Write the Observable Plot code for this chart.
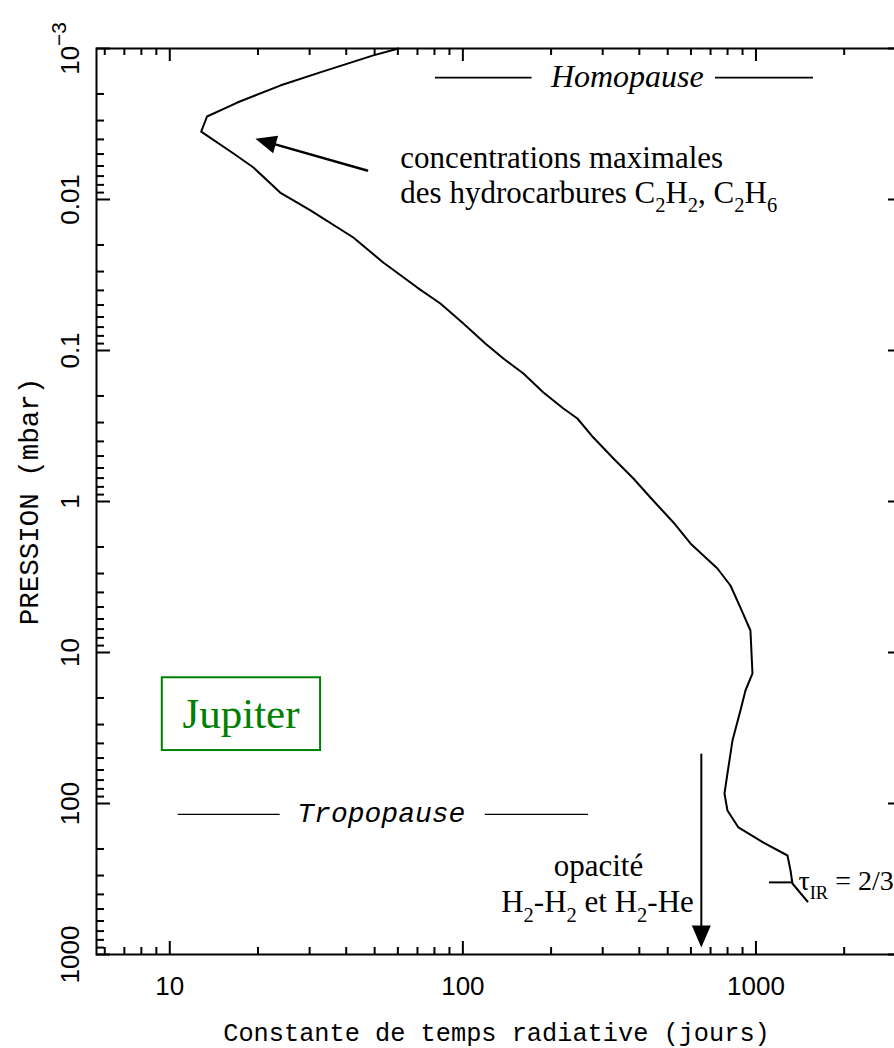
<!DOCTYPE html>
<html><head><meta charset="utf-8">
<script src="https://cdn.jsdelivr.net/npm/d3@7"></script>
<script src="https://cdn.jsdelivr.net/npm/@observablehq/plot@0.6"></script>
<style>
html,body{margin:0;padding:0;background:#fff;overflow:hidden;}
#chart svg{display:block;overflow:hidden;}
</style>
</head><body><div id="chart"></div>
<script>
// ---- data: radiative time constant (days) vs pressure (mbar), Jupiter ----
const tauDays = [60.3, 49.5, 32.6, 23.8, 17.0, 13.4, 12.8, 16.5, 19.3, 23.8, 30.2, 42.3, 53.5, 69.9, 83.8, 100.4, 119.3, 137.5, 160.9, 188.3, 220.3, 245.9, 278.8, 326.4, 381.8, 436.4, 522.9, 597.7, 738.9, 818.4, 885.2, 957.6, 973, 920.9, 885.2, 831.5, 799.4, 780.8, 799.4, 871.4, 1061, 1281, 1312, 1332, 1499];
const pressureMbar = [0.001, 0.00111, 0.00144, 0.00176, 0.00228, 0.00282, 0.00355, 0.00496, 0.00614, 0.00899, 0.01182, 0.01785, 0.02614, 0.0383, 0.0488, 0.0663, 0.0899, 0.113, 0.142, 0.1897, 0.2422, 0.282, 0.377, 0.519, 0.704, 0.941, 1.377, 1.897, 2.778, 3.60, 5.04, 7.15, 13.77, 17.85, 24.2, 38.3, 63.3, 85.9, 111.3, 144.1, 181.3, 221, 277.8, 338.7, 445.7];

// ---- axes ----
const xDomain = [Math.pow(10, 0.75), Math.pow(10, 3.5)];
const yDomain = [1e-3, 1e3];
const xMajor = [10, 100, 1000];
const xMajorLabels = ["10", "100", "1000"];
const xMinor = [6, 7, 8, 9, 20, 30, 40, 50, 60, 70, 80, 90, 200, 300, 400, 500, 600, 700, 800, 900, 2000, 3000];
const yMajor = [1e-3, 1e-2, 1e-1, 1, 10, 100, 1000];
const yMajorLabels = ["10^{−3}", "0.01", "0.1", "1", "10", "100", "1000"];
const yMinor = [1e-3, 1e-2, 1e-1, 1, 10, 100].flatMap(d => [2, 3, 4, 5, 6, 7, 8, 9].map(k => +(d * k).toPrecision(3)));
const xTitle = ["Constante de temps radiative (jours)"];
const yTitle = ["PRESSION (mbar)"];

// ---- annotations (data units) ----
const homopauseP = [0.00156];
const homopauseSegs = [[80.6, 172.3], [727.5, 1571]];
const homopauseLabel = [{x: 364, y: 0.00181, text: "Homopause"}];
const tropopauseP = [118];
const tropopauseSegs = [[10.69, 23.8], [119.3, 268.2]];
const tropopauseLabel = [{x: 52.7, y: 133.6, text: "Tropopause"}];
const hcLabel = [{x: 61.2, y: 0.00623, text: "concentrations maximales"}, {x: 61.2, y: 0.01047, text: "des hydrocarbures C_{2}H_{2}, C_{2}H_{6}"}];
const hcArrow = [{x1: 47.1, y1: 0.00643, x2: 19.6, y2: 0.00396}];
const opacLabel = [{x: 290, y: 304, text: "opacité"}, {x: 288, y: 527, text: "H_{2}-H_{2} et H_{2}-He"}];
const opacArrow = [{x1: 651, y1: 47.3, x2: 651, y2: 900}];
const tauLine = [{x1: 1112, x2: 1343, y: 333}];
const tauLabel = [{x: 1396, y: 376, text: "τ_{IR} = 2/3"}];
const jupiterBox = [{x1: 9.43, x2: 32.7, y1: 14.7, y2: 44.6}];
const jupiterLabel = [{x: 17.5, y: 31.4, text: "Jupiter"}];

const curve = tauDays.map((t, i) => ({tau: t, p: pressureMbar[i]}));

const W = 894, H = 1048, ML = 96, MT = 48, MB = 94, MR = -8;
const frameW = (W - MR) - ML, frameH = H - MT - MB;
const serif = "Liberation Serif, Times New Roman, serif";
const sans = "Liberation Sans, Arial, sans-serif";
const mono = "Liberation Mono, Courier New, monospace";
const green = "#008000";

// arrowhead symbol: tip at origin, pointing up
function headSymbol(len, half) {
  return {draw(ctx) { ctx.moveTo(0, 0); ctx.lineTo(-half, len); ctx.lineTo(half, len); ctx.closePath(); }};
}
const xs = d3.scaleLog(xDomain, [ML, W - MR]);
const ys = d3.scaleLog(yDomain, [MT, H - MB]);
const rotOf = a => Math.atan2(ys(a.y2) - ys(a.y1), xs(a.x2) - xs(a.x1)) * 180 / Math.PI + 90;

const plot = Plot.plot({
  width: W, height: H,
  marginLeft: ML, marginTop: MT, marginBottom: MB, marginRight: MR,
  x: {type: "log", domain: xDomain, axis: null},
  y: {type: "log", domain: yDomain, reverse: true, axis: null},
  style: {background: "white"},
  marks: [
    // ticks (inward, all four sides)
    Plot.tickX(xMajor, {x: d => d, insetTop: frameH - 13, strokeWidth: 2}),
    Plot.tickX(xMinor, {x: d => d, insetTop: frameH - 7, strokeWidth: 2}),
    Plot.tickX(xMajor, {x: d => d, insetBottom: frameH - 13, strokeWidth: 2}),
    Plot.tickX(xMinor, {x: d => d, insetBottom: frameH - 7, strokeWidth: 2}),
    Plot.tickY(yMajor, {y: d => d, insetRight: frameW - 14, strokeWidth: 2}),
    Plot.tickY(yMinor, {y: d => d, insetRight: frameW - 8, strokeWidth: 2}),
    Plot.tickY(yMajor, {y: d => d, insetLeft: frameW - 14, strokeWidth: 2}),
    Plot.tickY(yMinor, {y: d => d, insetLeft: frameW - 8, strokeWidth: 2}),
    Plot.frame({stroke: "black", strokeWidth: 2}),
    // tick labels
    Plot.text(xMajor, {x: d => d, text: (d, i) => xMajorLabels[i], frameAnchor: "bottom", dy: 40, lineAnchor: "bottom", fontFamily: sans, fontSize: 26}),
    Plot.text(yMajor, {y: d => d, text: (d, i) => yMajorLabels[i], frameAnchor: "left", dx: -18, rotate: -90, lineAnchor: "bottom", textAnchor: "middle", fontFamily: sans, fontSize: 26}),
    // axis titles
    Plot.text(xTitle, {text: d => d, frameAnchor: "bottom", dy: 86, dx: -3, lineAnchor: "bottom", textAnchor: "middle", fontFamily: mono, fontSize: 25.3}),
    Plot.text(yTitle, {text: d => d, frameAnchor: "left", dx: -59, rotate: -90, lineAnchor: "bottom", textAnchor: "middle", fontFamily: mono, fontSize: 27.5}),
    // data curve
    Plot.line(curve, {x: "tau", y: "p", stroke: "black", strokeWidth: 2}),
    // homopause
    Plot.ruleY(homopauseSegs, {y: () => homopauseP[0], x1: d => d[0], x2: d => d[1], strokeWidth: 1.6}),
    Plot.text(homopauseLabel, {x: "x", y: "y", text: "text", lineAnchor: "bottom", fontFamily: serif, fontStyle: "italic", fontSize: 32}),
    // tropopause
    Plot.ruleY(tropopauseSegs, {y: () => tropopauseP[0], x1: d => d[0], x2: d => d[1], strokeWidth: 1.4}),
    Plot.text(tropopauseLabel, {x: "x", y: "y", text: "text", lineAnchor: "bottom", fontFamily: mono, fontStyle: "italic", fontSize: 28}),
    // hydrocarbons annotation
    Plot.text(hcLabel, {x: "x", y: "y", text: "text", textAnchor: "start", lineAnchor: "bottom", fontFamily: serif, fontSize: 31}),
    Plot.arrow(hcArrow, {x1: "x1", y1: "y1", x2: "x2", y2: "y2", headLength: 0, insetEnd: 16, strokeWidth: 2.5, stroke: "black"}),
    Plot.dot(hcArrow, {x: "x2", y: "y2", symbol: headSymbol(21, 9), rotate: d => rotOf(d), fill: "black", stroke: "none"}),
    // opacity annotation
    Plot.text(opacLabel, {x: "x", y: "y", text: "text", lineAnchor: "bottom", fontFamily: serif, fontSize: 31}),
    Plot.arrow(opacArrow, {x1: "x1", y1: "y1", x2: "x2", y2: "y2", headLength: 0, insetEnd: 18, strokeWidth: 2, stroke: "black"}),
    Plot.dot(opacArrow, {x: "x2", y: "y2", symbol: headSymbol(22, 9.5), rotate: d => rotOf(d), fill: "black", stroke: "none"}),
    // tau IR = 2/3
    Plot.ruleY(tauLine, {y: "y", x1: "x1", x2: "x2", strokeWidth: 2}),
    Plot.text(tauLabel, {x: "x", y: "y", text: "text", textAnchor: "start", lineAnchor: "bottom", fontFamily: serif, fontSize: 28}),
    // Jupiter box
    Plot.rect(jupiterBox, {x1: "x1", x2: "x2", y1: "y1", y2: "y2", fill: "none", stroke: green, strokeWidth: 2}),
    Plot.text(jupiterLabel, {x: "x", y: "y", text: "text", lineAnchor: "bottom", fontFamily: serif, fontSize: 43, fill: green})
  ]
});

document.getElementById("chart").append(plot);

// rich text: _{sub} and ^{sup}
function richify(svg) {
  svg.querySelectorAll("text").forEach(el => {
    const s = el.textContent;
    if (!/[_^]\{/.test(s) || el.querySelector("tspan")) return;
    const base = parseFloat(getComputedStyle(el).fontSize) || 16;
    el.textContent = "";
    const re = /([_^])\{([^}]*)\}/g;
    let last = 0, shift = 0, m;
    const add = (txt, kind) => {
      if (!txt) return;
      const t = document.createElementNS("http://www.w3.org/2000/svg", "tspan");
      let target = 0;
      if (kind === "_") { target = base * 0.3; t.setAttribute("font-size", (base * 0.66).toFixed(1)); }
      if (kind === "^") { target = -base * 0.5; t.setAttribute("font-size", (base * 0.8).toFixed(1)); }
      const dy = target - shift;
      if (dy) t.setAttribute("dy", dy.toFixed(2));
      shift = target;
      t.textContent = txt;
      el.appendChild(t);
    };
    while ((m = re.exec(s))) {
      add(s.slice(last, m.index), null);
      add(m[2], m[1]);
      last = re.lastIndex;
    }
    add(s.slice(last), null);
  });
}
richify(plot);
</script>
</body></html>
